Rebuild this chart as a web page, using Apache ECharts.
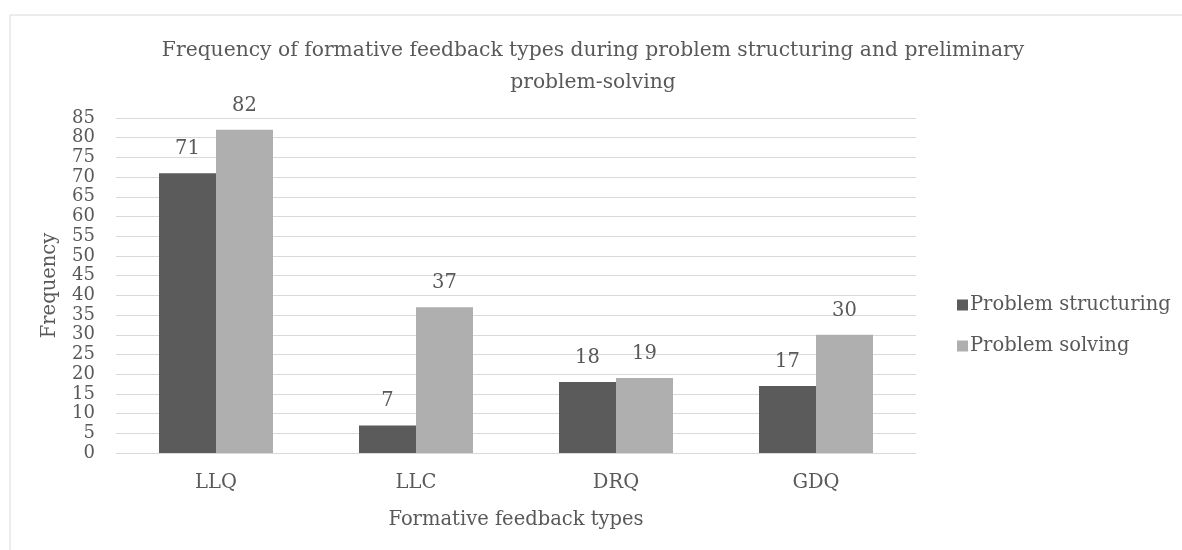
<!DOCTYPE html>
<html>
<head>
<meta charset="utf-8">
<script src="https://cdn.jsdelivr.net/npm/echarts@6/dist/echarts.min.js"></script>
<style>
  html, body { margin: 0; padding: 0; background: #fff; }
  #chart { width: 1182px; height: 550px; }
</style>
</head>
<body>
<div id="chart"></div>
<script>
// data
const categories = ['LLQ', 'LLC', 'DRQ', 'GDQ'];
const structuring = [71, 7, 18, 17];
const solving = [82, 37, 19, 30];

const font = 'DejaVu Serif';
const textColor = '#595959';
const fs = 19.5;

const chart = echarts.init(document.getElementById('chart'));

const option = {
  backgroundColor: '#fff',
  animation: false,
  textStyle: { fontFamily: font, color: textColor },
  title: {
    text: 'Frequency of formative feedback types during problem structuring and preliminary\nproblem-solving',
    left: 588,
    top: 30,
    textAlign: 'center',
    textStyle: {
      fontFamily: font,
      fontWeight: 'normal',
      fontSize: 20.3,
      lineHeight: 32,
      color: textColor
    }
  },
  legend: {
    orient: 'vertical',
    left: 952,
    top: 290,
    itemWidth: 11,
    itemHeight: 11,
    itemGap: 21,
    icon: 'rect',
    textStyle: { fontFamily: font, fontSize: fs, color: textColor, padding: [0, 0, 0, -3] },
    data: ['Problem structuring', 'Problem solving']
  },
  grid: { left: 116, right: 266, top: 118, bottom: 97 },
  xAxis: {
    type: 'category',
    data: categories,
    name: 'Formative feedback types',
    nameLocation: 'middle',
    nameGap: 57,
    nameTextStyle: { fontFamily: font, fontSize: fs, color: textColor },
    axisLine: { lineStyle: { color: '#d9d9d9' } },
    axisTick: { show: false },
    axisLabel: { fontFamily: font, fontSize: fs, color: textColor, margin: 20 }
  },
  yAxis: {
    type: 'value',
    min: 0,
    max: 85,
    interval: 5,
    name: 'Frequency',
    nameLocation: 'middle',
    nameGap: 56,
    nameTextStyle: { fontFamily: font, fontSize: fs, color: textColor },
    axisLine: { show: false },
    axisTick: { show: false },
    splitLine: { lineStyle: { color: '#d9d9d9' } },
    axisLabel: {
      fontFamily: font, fontSize: 18, color: textColor, margin: 21, lineHeight: 16,
      showMinLabel: true, showMaxLabel: true, hideOverlap: false
    }
  },
  series: [
    {
      name: 'Problem structuring',
      type: 'bar',
      data: structuring,
      barWidth: 57,
      barGap: '0%',
      itemStyle: { color: '#5b5b5b' },
      label: { show: true, position: 'top', distance: 14, fontFamily: font, fontSize: fs, color: textColor }
    },
    {
      name: 'Problem solving',
      type: 'bar',
      data: solving,
      barWidth: 57,
      barGap: '0%',
      itemStyle: { color: '#afafaf' },
      label: { show: true, position: 'top', distance: 14, fontFamily: font, fontSize: fs, color: textColor }
    }
  ],
  graphic: [
    { type: 'line', shape: { x1: 10, y1: 15, x2: 1182, y2: 15 }, style: { stroke: '#d9d9d9', lineWidth: 1 } },
    { type: 'line', shape: { x1: 10, y1: 15, x2: 10, y2: 550 }, style: { stroke: '#d9d9d9', lineWidth: 1 } }
  ]
};

chart.setOption(option);
</script>
</body>
</html>
